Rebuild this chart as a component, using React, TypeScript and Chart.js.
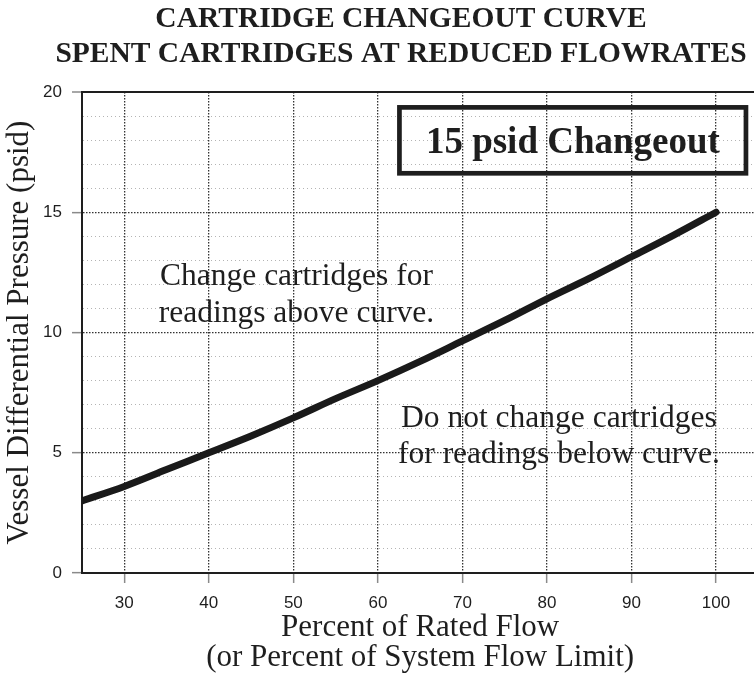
import React, { useEffect, useRef } from 'react';
import { Chart, registerables } from 'chart.js';

Chart.register(...registerables);

// ---- data ----
const FLOW = [25, 30, 35, 40, 45, 50, 55, 60, 65, 70, 75, 80, 85, 90, 95, 100];
const PRESSURE = [3.0, 3.6, 4.3, 5.0, 5.7, 6.45, 7.25, 8.0, 8.8, 9.65, 10.5, 11.4, 12.25, 13.15, 14.05, 15.0];
const X_TICKS = [30, 40, 50, 60, 70, 80, 90, 100];
const Y_TICKS = [0, 1, 2, 3, 4, 5, 6, 7, 8, 9, 10, 11, 12, 13, 14, 15, 16, 17, 18, 19, 20];
const Y_LABELS = [0, 5, 10, 15, 20];
const TITLE_LINES = ['CARTRIDGE CHANGEOUT CURVE', 'SPENT CARTRIDGES AT REDUCED FLOWRATES'];
const X_TITLE = ['Percent of Rated Flow', '(or Percent of System Flow Limit)'];
const Y_TITLE = 'Vessel Differential Pressure (psid)';
const BOX_TEXT = '15 psid Changeout';
const ABOVE_NOTE = ['Change cartridges for', 'readings above curve.'];
const BELOW_NOTE = ['Do not change cartridges', 'for readings below curve.'];

// ---- style / layout ----
const INK = '#1e1e1e';
const SERIF = '"Liberation Serif", "Times New Roman", serif';
const SANS = '"Liberation Sans", Arial, sans-serif';
const BOX_POS = { x0: 62.55, x1: 103.54, y0: 16.62, y1: 19.36, tx: 83.07, ty: 17.48 };
const ABOVE_POS = { x: 50.37, y: [11.975, 10.45] };
const BELOW_POS = { x: 81.42, y: [6.08, 4.585] };

const notesPlugin = {
  id: 'notes',
  afterDatasetsDraw(chart: any) {
    const { ctx, scales } = chart;
    const x = scales.x;
    const y = scales.y;
    ctx.save();
    ctx.fillStyle = INK;
    ctx.textBaseline = 'alphabetic';
    ctx.textAlign = 'center';

    // main title
    ctx.font = `bold 29.5px ${SERIF}`;
    ctx.fillText(TITLE_LINES[0], 401, 26.7);
    ctx.fillText(TITLE_LINES[1], 401, 61.7);

    // boxed label
    const bx0 = x.getPixelForValue(BOX_POS.x0);
    const bx1 = x.getPixelForValue(BOX_POS.x1);
    const by0 = y.getPixelForValue(BOX_POS.y1);
    const by1 = y.getPixelForValue(BOX_POS.y0);
    ctx.lineWidth = 4.7;
    ctx.strokeStyle = INK;
    ctx.strokeRect(bx0, by0, bx1 - bx0, by1 - by0);
    ctx.font = `bold 37px ${SERIF}`;
    ctx.fillText(BOX_TEXT, x.getPixelForValue(BOX_POS.tx), y.getPixelForValue(BOX_POS.ty));

    // notes
    ctx.font = `31.5px ${SERIF}`;
    ABOVE_NOTE.forEach((t, i) => ctx.fillText(t, x.getPixelForValue(ABOVE_POS.x), y.getPixelForValue(ABOVE_POS.y[i])));
    BELOW_NOTE.forEach((t, i) => ctx.fillText(t, x.getPixelForValue(BELOW_POS.x), y.getPixelForValue(BELOW_POS.y[i])));
    ctx.restore();
  },
};

export default function App() {
  const ref = useRef<HTMLCanvasElement | null>(null);

  useEffect(() => {
    if (!ref.current) return;
    const chart = new Chart(ref.current, {
      type: 'line',
      data: {
        datasets: [
          {
            data: FLOW.map((f, i) => ({ x: f, y: PRESSURE[i] })),
            borderColor: '#1a1a1a',
            borderWidth: 7,
            pointRadius: 0,
            cubicInterpolationMode: 'monotone',
            borderCapStyle: 'round',
            borderJoinStyle: 'round',
            fill: false,
          },
        ],
      },
      options: {
        animation: false,
        responsive: false,
        maintainAspectRatio: false,
        layout: { padding: { top: 92, right: 43.7, bottom: 0, left: 0 } },
        plugins: { legend: { display: false }, tooltip: { enabled: false }, title: { display: false } },
        scales: {
          x: {
            type: 'linear',
            min: 25,
            max: 105,
            afterBuildTicks: (s: any) => {
              s.ticks = X_TICKS.map((v) => ({ value: v }));
            },
            afterFit: (s: any) => {
              s.height = 101;
            },
            ticks: { autoSkip: false, maxRotation: 0, padding: 10.5, color: INK, font: { family: SANS, size: 17 } },
            grid: {
              color: '#333',
              lineWidth: 1.3,
              tickLength: 10,
              tickColor: '#8a8a8a',
              tickWidth: 1.5,
              tickBorderDash: [],
            },
            border: { display: true, color: INK, width: 2, dash: [1.5, 1.5] },
            title: {
              display: true,
              text: X_TITLE,
              color: INK,
              font: { family: SERIF, size: 31, lineHeight: 0.97 },
              padding: { top: 0, bottom: 1.4 },
            },
          },
          y: {
            type: 'linear',
            min: 0,
            max: 20,
            afterBuildTicks: (s: any) => {
              s.ticks = Y_TICKS.map((v) => ({ value: v }));
            },
            afterFit: (s: any) => {
              s.width = 82;
            },
            ticks: {
              autoSkip: false,
              padding: 10,
              color: INK,
              font: { family: SANS, size: 17 },
              callback: (v: any) => (Y_LABELS.includes(Number(v)) ? String(v) : ''),
            },
            grid: {
              color: (c: any) => {
                const v = c.tick ? c.tick.value : -1;
                if (v === 0) return 'rgba(0,0,0,0)';
                if (v === 20) return INK;
                return v % 5 === 0 ? '#333' : '#b4b4b4';
              },
              lineWidth: (c: any) => {
                const v = c.tick ? c.tick.value : -1;
                if (v === 20) return 2;
                return v % 5 === 0 ? 1.3 : 1;
              },
              tickLength: 10,
              tickColor: (c: any) => (c.tick && Y_LABELS.includes(c.tick.value) ? '#8a8a8a' : 'rgba(0,0,0,0)'),
              tickWidth: 1.5,
              tickBorderDash: [],
            },
            border: {
              display: true,
              color: INK,
              width: 2,
              dash: (c: any) => {
                const v = c && c.tick ? c.tick.value : -1;
                if (v === 20 || v < 0) return [];
                return v % 5 === 0 ? [1.5, 1.5] : [1, 3];
              },
            },
            title: {
              display: true,
              text: Y_TITLE,
              color: INK,
              font: { family: SERIF, size: 31, lineHeight: 1.2 },
              padding: { top: 1, bottom: 0 },
            },
          },
        },
      },
      plugins: [notesPlugin],
    } as any);
    return () => chart.destroy();
  }, []);

  return (
    <div
      style={{
        position: 'absolute',
        left: 0,
        top: 0,
        width: 754,
        height: 674,
        overflow: 'hidden',
        background: '#fff',
      }}
    >
      <canvas ref={ref} width={802} height={674} style={{ display: 'block' }} />
    </div>
  );
}
